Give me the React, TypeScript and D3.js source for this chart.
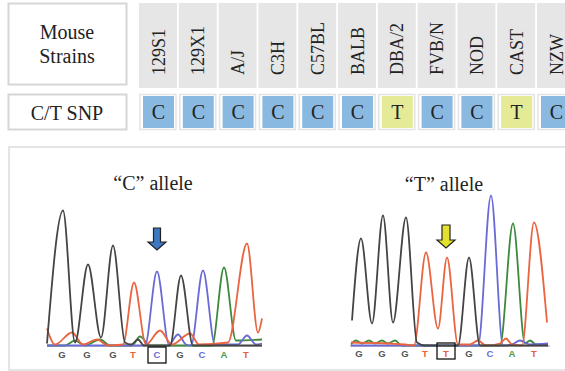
import React from "react";
import * as d3 from "d3";

// ---------- DATA ----------
const strains = ["129S1", "129X1", "A/J", "C3H", "C57BL", "BALB", "DBA/2", "FVB/N", "NOD", "CAST", "NZW"];
const snpCalls = ["C", "C", "C", "C", "C", "C", "T", "C", "C", "T", "C"];

// Chromatogram "C" allele (scan, rfu)
const cBases = ["G", "G", "G", "T", "C", "G", "C", "A", "T"];
const cBaseScans = [30, 80, 132, 172, 220, 266, 310, 354, 398];
const cSnpIndex = 4;
const cBlack: [number, number][] = [[0, 20], [32, 1350], [56, 30], [82, 810], [108, 80], [132, 1000], [156, 30], [168, 10], [182, 60], [194, 0], [246, 0], [268, 700], [292, 0], [430, 0]];
const cRed: [number, number][] = [[0, 170], [16, 10], [50, 130], [72, 10], [100, 60], [122, 0], [152, 10], [174, 630], [198, 10], [226, 150], [250, 10], [286, 120], [304, 10], [362, 30], [400, 1020], [422, 130], [430, 270]];
const cBlue: [number, number][] = [[0, 0], [196, 0], [220, 740], [244, 10], [262, 110], [278, 10], [288, 0], [312, 750], [336, 10], [382, 10], [400, 100], [418, 10], [430, 20]];
const cGreen: [number, number][] = [[0, 0], [36, 0], [56, 50], [76, 0], [106, 60], [126, 0], [170, 0], [186, 90], [206, 0], [330, 0], [354, 780], [378, 50], [430, 60]];

// Chromatogram "T" allele (scan, rfu)
const tBases = ["G", "G", "G", "T", "T", "G", "C", "A", "T"];
const tBaseScans = [18, 64, 110, 150, 192, 238, 280, 324, 368];
const tSnpIndex = 4;
const tBlack: [number, number][] = [[4, 250], [22, 1070], [44, 220], [66, 1300], [86, 230], [112, 1280], [134, 30], [150, 0], [216, 0], [238, 880], [260, 0], [396, 0]];
const tRed: [number, number][] = [[2, 30], [110, 10], [128, 0], [152, 930], [176, 170], [194, 880], [216, 10], [240, 10], [256, 50], [272, 0], [300, 20], [312, 70], [324, 10], [344, 0], [368, 1230], [394, 230]];
const tBlue: [number, number][] = [[2, 0], [256, 0], [282, 1500], [306, 0], [324, 10], [340, 50], [360, 10], [396, 20]];
const tGreen: [number, number][] = [[2, 10], [12, 50], [24, 20], [38, 50], [50, 20], [64, 50], [76, 20], [90, 50], [104, 0], [300, 0], [326, 1220], [350, 20], [360, 50], [372, 10], [396, 10]];

// ---------- STYLE ----------
const W = 565, H = 371;
const serif = "'Liberation Serif', 'Times New Roman', serif";
const sans = "'Liberation Sans', Arial, sans-serif";
const baseColor: Record<string, string> = { G: "#555555", T: "#e8623c", C: "#6b6bd8", A: "#4a9a4a" };
const traceColor = { black: "#444444", red: "#eb6440", blue: "#6a6ad6", green: "#3d8a3d" };

type Panel = {
  x0: number; x1: number; domain: [number, number]; baseY: number;
  bases: string[]; scans: number[]; snp: number;
  traces: { c: string; d: [number, number][] }[];
  title: string; titleX: number; titleY: number;
  arrowFill: string; arrowTop: number; arrowHead: number; arrowTip: number; shaftHalf: number;
  boxTop: number; letterY: number;
};

const panels: Panel[] = [
  {
    x0: 47, x1: 262, domain: [0, 430], baseY: 345.5, bases: cBases, scans: cBaseScans, snp: cSnpIndex,
    traces: [
      { c: traceColor.green, d: cGreen }, { c: traceColor.blue, d: cBlue },
      { c: traceColor.red, d: cRed }, { c: traceColor.black, d: cBlack },
    ],
    title: "\u201CC\u201D allele", titleX: 153, titleY: 190,
    arrowFill: "#3f78c2", arrowTop: 228, arrowHead: 242, arrowTip: 250, shaftHalf: 3.5,
    boxTop: 347, letterY: 358,
  },
  {
    x0: 350, x1: 550, domain: [0, 400], baseY: 345.5, bases: tBases, scans: tBaseScans, snp: tSnpIndex,
    traces: [
      { c: traceColor.green, d: tGreen }, { c: traceColor.blue, d: tBlue },
      { c: traceColor.red, d: tRed }, { c: traceColor.black, d: tBlack },
    ],
    title: "\u201CT\u201D allele", titleX: 444, titleY: 191,
    arrowFill: "#e2e22e", arrowTop: 225, arrowHead: 240, arrowTip: 248, shaftHalf: 4,
    boxTop: 343, letterY: 357,
  },
];

const cellX0 = 139, cellPitch = 39.8, cellW = 38;

function Chromatogram({ p }: { p: Panel }) {
  const x = d3.scaleLinear().domain(p.domain).range([p.x0, p.x1]);
  const y = d3.scaleLinear().domain([0, 1500]).range([p.baseY, p.baseY - 150]);
  const line = d3.line<[number, number]>().x(d => x(d[0])).y(d => y(d[1])).curve(d3.curveMonotoneX);
  const ax = x(p.scans[p.snp]);
  const arrow = `M${ax - p.shaftHalf},${p.arrowTop} L${ax + p.shaftHalf},${p.arrowTop} L${ax + p.shaftHalf},${p.arrowHead} L${ax + 9},${p.arrowHead} L${ax},${p.arrowTip} L${ax - 9},${p.arrowHead} L${ax - p.shaftHalf},${p.arrowHead} Z`;
  return (
    <g>
      <text x={p.titleX} y={p.titleY} textAnchor="middle" fontFamily={serif} fontSize={20} fill="#222">{p.title}</text>
      <line x1={p.x0} x2={p.x1} y1={p.baseY + 0.5} y2={p.baseY + 0.5} stroke="#9a9a9a" strokeWidth={1.2} />
      {p.traces.map((t, i) => (
        <path key={i} d={line(t.d) || ""} fill="none" stroke={t.c} strokeWidth={1.8} strokeLinejoin="round" />
      ))}
      <path d={arrow} fill={p.arrowFill} stroke="#222" strokeWidth={1.2} strokeLinejoin="miter" />
      {p.bases.map((b, i) => (
        <text key={i} x={x(p.scans[i])} y={p.letterY} textAnchor="middle" fontFamily={sans} fontWeight="bold" fontSize={9.5} fill={baseColor[b]}>{b}</text>
      ))}
      <rect x={ax - 9} y={p.boxTop} width={18} height={16} fill="none" stroke="#111" strokeWidth={1.3} />
    </g>
  );
}

export default function App() {
  return (
    <svg width={W} height={H} style={{ position: "absolute", left: 0, top: 0, background: "#fff" }}>
      <rect x={0} y={0} width={W} height={H} fill="#fff" />
      {/* Label boxes */}
      <rect x={8.5} y={3.5} width={118} height={81} fill="#fff" stroke="#d6d6d6" strokeWidth={2} />
      <text x={67} y={39} textAnchor="middle" fontFamily={serif} fontSize={20} fill="#222">Mouse</text>
      <text x={67} y={63} textAnchor="middle" fontFamily={serif} fontSize={20} fill="#222">Strains</text>
      <rect x={8.5} y={94.5} width={118} height={35} fill="#fff" stroke="#d6d6d6" strokeWidth={2} />
      <text x={67} y={120} textAnchor="middle" fontFamily={serif} fontSize={20} fill="#222">C/T SNP</text>

      {/* Strain header cells */}
      {strains.map((s, i) => {
        const cx = cellX0 + i * cellPitch;
        return (
          <g key={s}>
            <rect x={cx} y={3} width={cellW} height={85} fill="#e6e6e6" />
            <text transform={`translate(${cx + cellW / 2 + 6.5},75) rotate(-90)`} fontFamily={serif} fontSize={18} fill="#222">{s}</text>
          </g>
        );
      })}

      {/* SNP cells */}
      {snpCalls.map((c, i) => {
        const cx = cellX0 + i * cellPitch;
        return (
          <g key={i}>
            <rect x={cx + 1} y={94.5} width={cellW - 2} height={35} fill="none" stroke="#e3e3e3" strokeWidth={1.5} />
            <rect x={cx + 4} y={96} width={31} height={32} fill={c === "C" ? "#89b8e0" : "#e5ea97"} />
            <text x={cx + cellW / 2 + 0.5} y={119} textAnchor="middle" fontFamily={serif} fontSize={20} fill="#222">{c}</text>
          </g>
        );
      })}

      {/* Bottom panel */}
      <rect x={9} y={147} width={W + 10} height={223} fill="#fff" stroke="#dcdcdc" strokeWidth={1.5} />
      {panels.map((p, i) => <Chromatogram key={i} p={p} />)}
    </svg>
  );
}
